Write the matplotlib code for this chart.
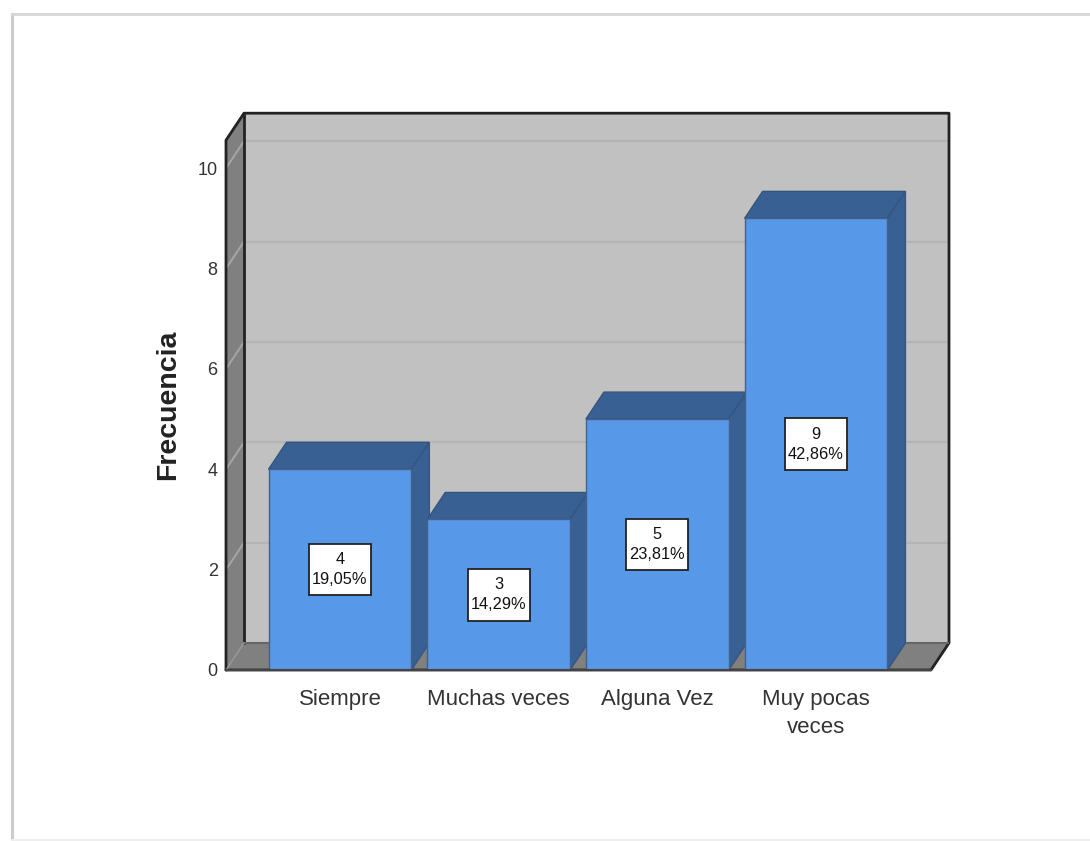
import matplotlib
matplotlib.use('Agg')
import matplotlib.pyplot as plt
from matplotlib.lines import Line2D
from matplotlib.patches import Polygon, Rectangle

plt.rcParams['font.family'] = ['Liberation Sans', 'DejaVu Sans']

categories = ['Siempre', 'Muchas veces', 'Alguna Vez', 'Muy pocas\nveces']
counts = [4, 3, 5, 9]
percents = ['19,05%', '14,29%', '23,81%', '42,86%']
y_ticks = [0, 2, 4, 6, 8, 10]

W, H = 1090, 841
BAR_W = 0.9
DX = 0.1134      # depth of the fake 3d, in category units
DY = 0.538       # same, in count units
BOX_W = 0.39     # label boxes
BOX_H = 1.03
WALL = '#808080'
BACK = '#c1c1c1'
FRONT = '#5898e8'
SHADE = '#396092'

fig = plt.figure(figsize=(W / 100, H / 100), dpi=100, facecolor='white')
ax = fig.add_axes([226 / W, 1 - 670 / H, (949 - 226) / W, (670 - 113) / H])
ax.set_xlim(-0.718, 3.838)
ax.set_ylim(0, 11.1)
ax.patch.set_visible(False)
for s in ax.spines.values():
    s.set_visible(False)

# screenshot frame
fig.add_artist(Line2D([12 / W, 12 / W], [0, 1 - 14 / H], color='#cccccc', lw=2.2))
fig.add_artist(Line2D([12 / W, 1], [1 - 14 / H, 1 - 14 / H], color='#d6d6d6', lw=2))
fig.add_artist(Line2D([12 / W, 1], [1 / H, 1 / H], color='#eeeeee', lw=1.5))

x0, x1 = ax.get_xlim()
x2 = x1 - DX
ytop = 10 + DY + 0.02

# walls
ax.add_patch(Polygon([(x0 + DX, DY), (x1, DY), (x1, ytop + DY), (x0 + DX, ytop + DY)],
                     fc=BACK, ec='none', zorder=1))
ax.add_patch(Polygon([(x0, 0), (x0 + DX, DY), (x0 + DX, ytop + DY), (x0, ytop)],
                     fc=WALL, ec='none', zorder=1))
ax.add_patch(Polygon([(x0, 0), (x0 + DX, DY), (x1, DY), (x2, 0)],
                     fc=WALL, ec='none', zorder=1))

# gridlines
for t in y_ticks[1:]:
    ax.plot([x0 + DX, x1], [t + DY, t + DY], color='#b4b4b4', lw=1.6, zorder=2)
    ax.plot([x0, x0 + DX], [t, t + DY], color='#a6a6a6', lw=1.4, zorder=2)

# wall outlines
edge = dict(color='#222222', lw=2, zorder=3, solid_capstyle='round', clip_on=False)
ax.plot([x0, x0, x0 + DX, x1, x1, x2, x0], [0, ytop, ytop + DY, ytop + DY, DY, 0, 0], **edge)
ax.plot([x0 + DX, x0 + DX], [DY, ytop + DY], **edge)
ax.plot([x0 + DX, x1], [DY, DY], color='#666666', lw=1.5, zorder=3)
ax.plot([x0, x0 + DX], [0, DY], color='#999999', lw=1, zorder=3)

# bars
for i, (v, pct) in enumerate(zip(counts, percents)):
    l, r = i - BAR_W / 2, i + BAR_W / 2
    ax.add_patch(Polygon([(l, v), (l + DX, v + DY), (r + DX, v + DY), (r, v)],
                         fc=SHADE, ec='#34557f', lw=1, zorder=4))
    ax.add_patch(Polygon([(r, 0), (r + DX, DY), (r + DX, v + DY), (r, v)],
                         fc=SHADE, ec='#34557f', lw=1, zorder=4))
    ax.bar(i, v, width=BAR_W, color=FRONT, edgecolor='#44618a', linewidth=1, zorder=5)
    ax.add_patch(Rectangle((i - BOX_W / 2, v / 2 - BOX_H / 2), BOX_W, BOX_H,
                           fc='white', ec='#222222', lw=1.3, zorder=6))
    ax.text(i, v / 2, f'{v}\n{pct}', ha='center', va='center', fontsize=11.8, color='#111111',
            linespacing=1.4, zorder=7)

ax.plot([x0, x2], [0, 0], color='#444444', lw=1.5, zorder=6, clip_on=False)

ax.set_xticks(range(len(categories)), categories, fontsize=16, color='#333333', linespacing=1.4)
ax.set_yticks(y_ticks, y_ticks, fontsize=13, color='#333333')
ax.tick_params(length=0)
ax.tick_params(axis='x', pad=14)
ax.tick_params(axis='y', pad=6)
fig.text(168 / W, 1 - 405 / H, 'Frecuencia', rotation=90, ha='center', va='center',
         fontsize=20.5, fontweight='bold', color='#222222')

fig.savefig('out.png', dpi=100)
